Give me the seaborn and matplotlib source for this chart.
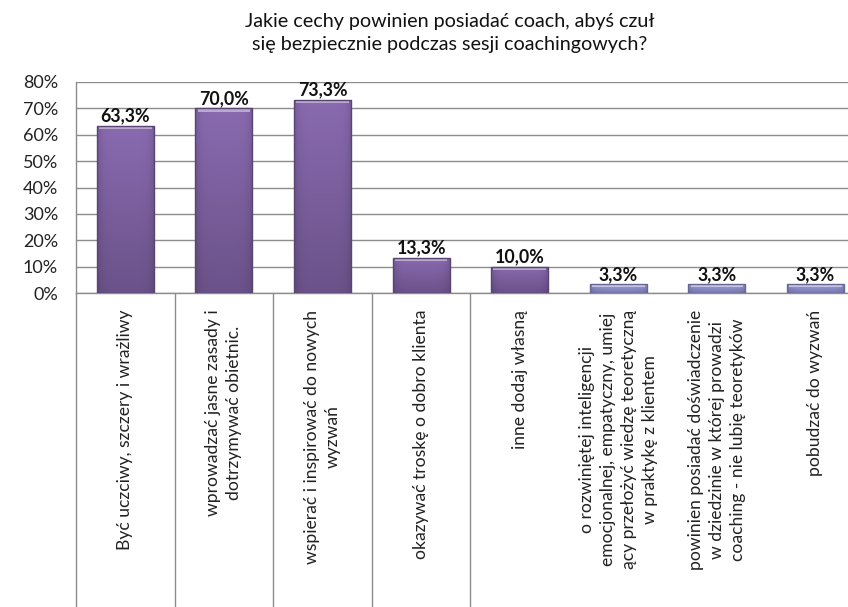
import numpy as np
import pandas as pd
import matplotlib
matplotlib.use("Agg")
import matplotlib.pyplot as plt
import matplotlib.colors as mcolors
import seaborn as sns

categories = [
    "Być uczciwy, szczery i wrażliwy",
    "wprowadzać jasne zasady i\ndotrzymywać obietnic.",
    "wspierać i inspirować do nowych\nwyzwań",
    "okazywać troskę o dobro klienta",
    "inne dodaj własną",
    "o rozwiniętej inteligencji\nemocjonalnej, empatyczny, umiej\nący przełożyć wiedzę teoretyczną\nw praktykę z klientem",
    "powinien posiadać doświadczenie\nw dziedzinie w której prowadzi\ncoaching - nie lubię teoretyków",
    "pobudzać do wyzwań",
]
values = [63.3, 70.0, 73.3, 13.3, 10.0, 3.3, 3.3, 3.3]
y_ticks = [0, 10, 20, 30, 40, 50, 60, 70, 80]
title = "Jakie cechy powinien posiadać coach, abyś czuł\nsię bezpiecznie podczas sesji coachingowych?"

sns.set_theme(style="white")
plt.rcParams["font.family"] = ["Lato", "DejaVu Sans"]

purple = "#7f62a3"
lavender = "#9191cf"
bar_colors = [purple] * 5 + [lavender] * 3

df = pd.DataFrame({"cat": categories, "val": values})

fig = plt.figure(figsize=(8.48, 6.07), dpi=100)
ax = fig.add_axes([76 / 848, 314 / 607, 8 * 98.6 / 848, 211 / 607])

sns.barplot(data=df, x="cat", y="val", hue="cat", palette=bar_colors,
            legend=False, width=0.58, ax=ax, saturation=1, zorder=3)

ax.set_ylim(0, 80)
ax.set_xlim(-0.5, len(categories) - 0.5)
ax.set_yticks(y_ticks)
ax.set_yticklabels([f"{t}%" for t in y_ticks], fontsize=13, color="#222222")
ax.yaxis.grid(True, color="#8c8c8c", linewidth=1.0, zorder=0)
ax.set_axisbelow(True)
ax.tick_params(axis="y", length=0, pad=13)
ax.tick_params(axis="x", length=0, pad=12)
ax.set_xlabel("")
ax.set_ylabel("")
for s in ["top", "right"]:
    ax.spines[s].set_visible(False)
ax.spines["left"].set_color("#8c8c8c")
ax.spines["bottom"].set_color("#8c8c8c")
ax.spines["left"].set_linewidth(1.0)
ax.spines["bottom"].set_linewidth(1.0)

ax.set_xticks(range(len(categories)))
ax.set_xticklabels(categories, rotation=90, fontsize=12.6, color="#222222",
                   ha="center", va="top", multialignment="center",
                   linespacing=1.38)

# shaded fill with a light bevel at the top of each bar
for patch, col in zip(ax.patches, bar_colors):
    x0, y0 = patch.get_x(), patch.get_y()
    w, h = patch.get_width(), patch.get_height()
    base = np.array(mcolors.to_rgb(col))
    n = 64
    t = np.linspace(0, 1, n)[:, None]
    shade = base * (0.84 + 0.24 * t)
    shade = np.clip(shade, 0, 1)
    horiz = np.linspace(-1, 1, 32)[None, :]
    side = 1 - 0.12 * horiz ** 6
    img = np.clip(shade[:, None, :] * side[:, :, None], 0, 1)
    im = ax.imshow(img, extent=[x0, x0 + w, y0, y0 + h], origin="lower",
                   aspect="auto", zorder=3.5, interpolation="bilinear")
    im.set_clip_path(patch)
    patch.set_edgecolor(tuple(base * 0.70))
    patch.set_linewidth(1.0)
    patch.set_zorder(4)
    patch.set_facecolor("none")
    # top bevel highlight
    bev_h = min(1.3, h * 0.3)
    light = np.clip(base + (1 - base) * 0.45, 0, 1)
    ax.fill_between([x0 + w * 0.04, x0 + w * 0.96], y0 + h - bev_h, y0 + h - bev_h * 0.3,
                    color=light, zorder=3.8, linewidth=0)

ax.set_xlim(-0.5, len(categories) - 0.5)
ax.set_ylim(0, 80)

for i, v in enumerate(values):
    ax.text(i, v + 0.5, f"{v:.1f}".replace(".", ",") + "%", ha="center", va="bottom",
            fontsize=12.8, fontweight="bold", color="#111111", zorder=5)

# category boundaries extending down through the label area
bottom_frac = -(314 / 607) / (211 / 607)
for b in [-0.5, 0.5, 1.5, 2.5, 3.5]:
    ax.plot([b, b], [0, bottom_frac], transform=ax.get_xaxis_transform(),
            color="#8c8c8c", linewidth=1.0, clip_on=False, zorder=2)

fig.text(450 / 848, 1 - 33 / 607, title, ha="center", va="center",
         fontsize=14.2, color="#111111", linespacing=1.45)

fig.savefig("out.png", dpi=100, facecolor="white")
